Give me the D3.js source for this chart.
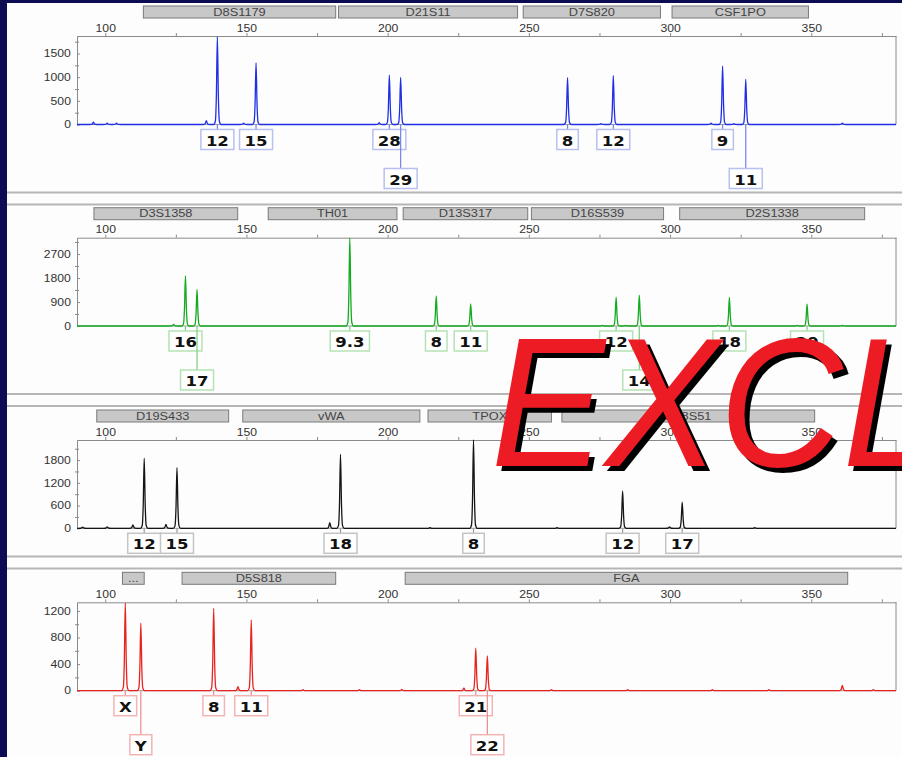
<!DOCTYPE html>
<html>
<head>
<meta charset="utf-8">
<script src="https://cdn.jsdelivr.net/npm/d3@7"></script>
<style>
  body { margin: 0; background: #0b0c52; }
  svg { display: block; }
  .axis text { font-family: "Liberation Sans", Arial, sans-serif; font-size: 10px; fill: #333; }
  .axis path, .axis line { stroke: #8a8a8a; }
  .locus text { font-family: "Liberation Sans", Arial, sans-serif; font-size: 10px; fill: #444; }
  .allele text { font-family: "DejaVu Sans", Verdana, sans-serif; font-weight: bold; font-size: 14px; fill: #111; }
</style>
</head>
<body>
<script>
// size axis in base pairs (shared by all dye panels)
const sizeTicks = [100, 125, 150, 175, 200, 225, 250, 275, 300, 325, 350, 375];

// peaks: [size bp, height RFU, allele call, label row]
const bluePeaks = [
  [95.8, 50], [100.7, 30], [104, 30], [135.8, 80],
  [139.7, 1850, "12", 1], [149, 30], [153.4, 1300, "15", 1],
  [197, 40], [200.6, 1045, "28", 1], [204.6, 995, "29", 2],
  [263.7, 990, "8", 1], [275.5, 20], [279.9, 1030, "12", 1],
  [314.5, 30], [318.6, 1235, "9", 1], [322.6, 20], [326.8, 955, "11", 2],
  [361, 30]
];
const greenPeaks = [
  [124.2, 60], [128.4, 1875, "16", 1], [132.5, 1375, "17", 2],
  [186.6, 3300, "9.3", 1], [217.2, 1125, "8", 1], [229.4, 825, "11", 1],
  [276, 20], [280.9, 1085, "12", 1], [284.2, 20], [289.1, 1160, "14", 2],
  [317, 20], [321, 1075, "18", 1], [345, 20], [348.5, 815, "20", 1], [361, 25]
];
const blackPeaks = [
  [92, 30], [100.7, 40], [109.8, 90], [113.8, 1850, "12", 1],
  [121.5, 100], [125.4, 1600, "15", 1], [179.5, 150], [183.3, 1955, "18", 1],
  [215, 15], [230.4, 2330, "8", 1], [260, 15], [283.2, 985, "12", 1],
  [299.8, 40], [304.3, 690, "17", 1], [330, 15]
];
const redPeaks = [
  [107.1, 1320, "X", 1], [112.6, 1015, "Y", 2], [138.4, 1240, "8", 1],
  [147, 60], [151.7, 1065, "11", 1], [170, 15], [190, 15], [205, 20],
  [227, 40], [231.2, 640, "21", 1], [235.3, 525, "22", 2],
  [258, 15], [285, 15], [315, 15], [335, 15], [361, 80], [372, 15]
];

// locus bins: [marker, start bp, end bp]
const blueLoci = [["D8S1179", 113.5, 181.6], ["D21S11", 182.6, 246], ["D7S820", 248, 296.6], ["CSF1PO", 300.7, 349]];
const greenLoci = [["D3S1358", 96, 146.9], ["TH01", 157.7, 203.3], ["D13S317", 205.5, 249.6], ["D16S539", 250.9, 297.7], ["D2S1338", 303.4, 368.9]];
const blackLoci = [["D19S433", 97, 143.7], ["vWA", 148.7, 211.4], ["TPOX", 214.3, 258], ["D18S51", 261.7, 351.2]];
const redLoci = [["...", 106.1, 113.8], ["D5S818", 127.2, 181.6], ["FGA", 206.2, 362.9]];

// RFU ticks and top of each panel's scale
const blueTicks = [0, 500, 1000, 1500];
const greenTicks = [0, 900, 1800, 2700];
const blackTicks = [0, 600, 1200, 1800];
const redTicks = [0, 400, 800, 1200];
const yMaxes = [1870, 3310, 2330, 1330];

const dyes = [
  { peaks: bluePeaks, loci: blueLoci, ticks: blueTicks, trace: "#1f2fe6", box: "#b8c0f2", lead: "#7482ea" },
  { peaks: greenPeaks, loci: greenLoci, ticks: greenTicks, trace: "#13ab1f", box: "#b4e2b4", lead: "#7ccc7c" },
  { peaks: blackPeaks, loci: blackLoci, ticks: blackTicks, trace: "#151515", box: "#c4c4c4", lead: "#9a9a9a" },
  { peaks: redPeaks, loci: redLoci, ticks: redTicks, trace: "#e8231f", box: "#f2b4b4", lead: "#ee8a8a" }
];

// panel geometry (page pixels)
const layout = [
  { frameTop: 3, frameBottom: 192.5, plotTop: 36, base: 124.5 },
  { frameTop: 204.5, frameBottom: 394, plotTop: 237.7, base: 326 },
  { frameTop: 406, frameBottom: 556.5, plotTop: 440, base: 528.3 },
  { frameTop: 568.5, frameBottom: 800, plotTop: 602.3, base: 690.7 }
];

const width = 902, height = 757;
const svg = d3.select("body").append("svg")
  .attr("width", width)
  .attr("height", height);

svg.append("rect").attr("width", width).attr("height", height).attr("fill", "#0b0c52");
svg.append("rect").attr("x", 7).attr("y", 3).attr("width", width).attr("height", height)
  .attr("fill", "#fdfdfd");

const x = d3.scaleLinear().domain([90, 380]).range([77, 896]);

// peak outline relative to one peak: [bp offset, fraction of height]
const shape = [[-1.3, 0], [-0.7, 0.04], [-0.35, 0.33], [0, 1], [0.35, 0.33], [0.7, 0.04], [1.3, 0]];

dyes.forEach((dye, i) => {
  const L = layout[i];
  const g = svg.append("g");
  const y = d3.scaleLinear().domain([0, yMaxes[i]]).range([L.base, L.plotTop]);

  // frame lines
  [L.frameTop, L.frameBottom].forEach(fy => {
    if (fy < 5) return;
    g.append("line")
      .attr("x1", 7).attr("x2", width)
      .attr("y1", fy).attr("y2", fy)
      .attr("stroke", "#b6b6b6").attr("stroke-width", 2);
  });

  // locus bins
  const bins = g.append("g").attr("class", "locus")
    .selectAll("g").data(dye.loci).enter().append("g");
  bins.append("rect")
    .attr("x", d => x(d[1]))
    .attr("y", L.plotTop - 30)
    .attr("width", d => x(d[2]) - x(d[1]))
    .attr("height", 12)
    .attr("fill", "#c8c8c8")
    .attr("stroke", "#7a7a7a");
  bins.append("text")
    .attr("transform", d => `translate(${(x(d[1]) + x(d[2])) / 2},${L.plotTop - 20.5}) scale(1.28,1)`)
    .attr("text-anchor", "middle")
    .text(d => d[0]);

  // plot box
  g.append("line").attr("x1", x(380)).attr("x2", x(380)).attr("y1", L.plotTop).attr("y2", L.base)
    .attr("stroke", "#8a8a8a");
  g.append("line").attr("x1", x(90)).attr("x2", x(380)).attr("y1", L.base).attr("y2", L.base)
    .attr("stroke", "#9a9a9a");

  // size axis on top
  g.append("g").attr("class", "axis")
    .attr("transform", `translate(0,${L.plotTop})`)
    .call(d3.axisTop(x).tickValues(sizeTicks).tickSize(3).tickSizeOuter(0).tickPadding(1.5)
      .tickFormat(d => d % 50 === 0 ? d : ""))
    .selectAll("text").attr("transform", "scale(1.22,1)");

  // RFU axis
  const step = dye.ticks[1] / 2;
  const minor = d3.range(step, yMaxes[i], step).filter(v => !dye.ticks.includes(v));
  g.append("g").attr("class", "axis")
    .attr("transform", `translate(${x(90)},0)`)
    .call(d3.axisLeft(y).tickValues(minor).tickSize(3).tickSizeOuter(0).tickFormat(""))
    .selectAll("line").attr("x2", 2).attr("x1", -2);
  g.append("g").attr("class", "axis")
    .attr("transform", `translate(${x(90)},0)`)
    .call(d3.axisLeft(y).tickValues(dye.ticks).tickSize(4).tickSizeOuter(0).tickPadding(1)
      .tickFormat(d3.format("d")))
    .call(a => a.selectAll("line").attr("x2", 3))
    .selectAll("text").attr("transform", "scale(1.22,1)");

  // trace
  const pts = [[90, 0]];
  dye.peaks.forEach(p => shape.forEach(s => pts.push([p[0] + s[0], p[1] * s[1]])));
  pts.push([380, 0]);
  pts.sort((a, b) => a[0] - b[0]);
  const line = d3.line()
    .x(d => x(d[0]))
    .y(d => y(d[1]))
    .curve(d3.curveMonotoneX);
  g.append("path")
    .datum(pts)
    .attr("d", line)
    .attr("fill", "none")
    .attr("stroke", dye.trace)
    .attr("stroke-width", 1.3);

  // allele call boxes
  dye.peaks.filter(p => p[2]).forEach(p => {
    const cx = x(p[0]);
    const top = L.base + (p[3] === 2 ? 44 : 5);
    g.append("line")
      .attr("x1", cx).attr("x2", cx)
      .attr("y1", L.base).attr("y2", top)
      .attr("stroke", dye.lead).attr("stroke-width", 1.2);
    const lab = g.append("g").attr("class", "allele");
    const rect = lab.append("rect")
      .attr("y", top).attr("height", 20)
      .attr("fill", "#fff").attr("stroke", dye.box).attr("stroke-width", 1.5);
    const t = lab.append("text")
      .attr("transform", `translate(${cx},${top + 16}) scale(1.18,1)`)
      .attr("text-anchor", "middle")
      .text(p[2]);
    const w = t.node().getComputedTextLength() * 1.18 + 10;
    rect.attr("x", cx - w / 2).attr("width", w);
  });
});

// overlay stamp
const stamp = svg.append("g")
  .style("font-family", "'Liberation Sans', Arial, sans-serif")
  .style("font-style", "italic")
  .style("font-size", "184px");
stamp.append("text").attr("transform", "translate(496,471) scale(0.93,1)").attr("fill", "#000").text("EXCL");
stamp.append("text").attr("transform", "translate(491,466) scale(0.93,1)").attr("fill", "#ed1c24").text("EXCL");
</script>
</body>
</html>
